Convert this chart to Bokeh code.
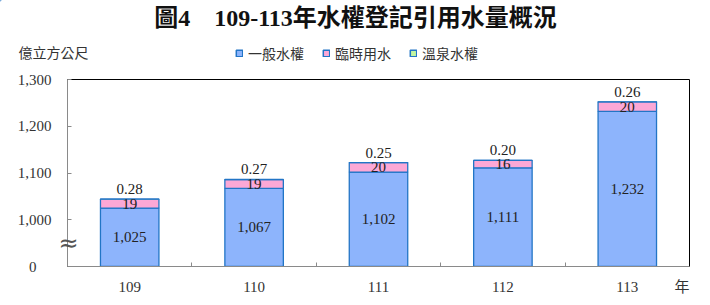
from bokeh.plotting import figure
from bokeh.layouts import column
from bokeh.models import (ColumnDataSource, FixedTicker, Label, Legend, LegendItem,
                          LinearAxis)
from bokeh.embed import file_html
from bokeh.resources import INLINE
from bokeh.core.properties import value

# ---- data ----
years = ["109", "110", "111", "112", "113"]
general = [1025, 1067, 1102, 1111, 1232]      # 一般水權
temporary = [19, 19, 20, 16, 20]              # 臨時用水
hotspring = [0.28, 0.27, 0.25, 0.20, 0.26]    # 溫泉水權
series_names = ["一般水權", "臨時用水", "溫泉水權"]
y_ticks = [1000, 1100, 1200, 1300]
y_tick_labels = ["1,000", "1,100", "1,200", "1,300"]
axis_floor = 900          # broken axis: bottom of the scale, shown as "0"
axis_floor_label = "0"
break_mark = "≈"
break_at = 950
title_text = "圖4　109-113年水權登記引用水量概況"
unit_text = "億立方公尺"
xunit_text = "年"

SERIF = "'Liberation Serif', 'Noto Sans CJK TC'"
CJK = "'Noto Sans CJK TC'"
BLUE = "#8DB4FC"
EDGE = "#2275C6"
PINK = "#FCA8D6"
GREEN = "#C2F5A0"
FILLS = [BLUE, PINK, GREEN]

x = list(range(1, len(years) + 1))
src = ColumnDataSource(dict(
    x=x, general=general, temporary=temporary, hotspring=hotspring,
    gen_lab=[f"{v:,}" for v in general],
    tmp_lab=[str(v) for v in temporary],
    hot_lab=[f"{v:.2f}" for v in hotspring],
    gen_y=[(axis_floor + g) / 2 for g in general],
    tmp_y=[g + t / 2 for g, t in zip(general, temporary)],
    top_y=[g + t + h for g, t, h in zip(general, temporary, hotspring)],
))

# ---------------- header (title, unit, legend) ----------------
HEAD_H = 69
head = figure(width=710, height=HEAD_H, x_range=(0, 710), y_range=(HEAD_H, 0),
              x_axis_type=None, y_axis_type=None, output_backend="svg",
              toolbar_location=None, min_border=0)
head.frame_align = False
head.outline_line_color = None
head.grid.visible = False
head.background_fill_color = "white"
head.border_fill_color = "white"

head.add_layout(Label(x=355, y=17, text=title_text, text_font=SERIF,
                      text_font_size="24px", text_font_style="bold",
                      text_align="center", text_baseline="middle",
                      text_color="#111111"))
head.add_layout(Label(x=18, y=51, text=unit_text, text_font=CJK,
                      text_font_size="14px", text_align="left",
                      text_baseline="middle", text_color="#333333"))

# legend keys (off-canvas so only their legend swatches show)
swatches = [head.vbar(x=[-50], bottom=[-60], top=[-50], width=1, fill_color=c,
                      line_color=EDGE, line_width=1.5) for c in FILLS]
legend = Legend(items=[LegendItem(label=n, renderers=[r]) for n, r in zip(series_names, swatches)],
                orientation="horizontal", location=(235, 6),
                glyph_width=8, glyph_height=8, label_standoff=5, spacing=18,
                padding=0, margin=0, border_line_color=None,
                background_fill_alpha=0, label_text_font=CJK,
                label_text_font_size="14px", label_text_color="#333333")
head.add_layout(legend, "center")

# ---------------- main chart ----------------
p = figure(width=710, height=305 - HEAD_H, x_range=(0.5, len(years) + 0.5),
           y_range=(axis_floor, 1300), output_backend="svg", toolbar_location=None,
           min_border_left=67, min_border_right=21, min_border_top=79 - HEAD_H,
           min_border_bottom=39)
p.frame_align = False
p.background_fill_color = "white"
p.border_fill_color = "white"
p.outline_line_color = "black"
p.grid.visible = False

rs = p.vbar_stack(["general", "temporary", "hotspring"], x="x", width=0.47,
                  source=src, fill_color=FILLS, line_color=EDGE, line_width=1.3)

for ycol, tcol, base, off in [("gen_y", "gen_lab", "middle", 0),
                              ("tmp_y", "tmp_lab", "middle", 0),
                              ("top_y", "hot_lab", "bottom", -5)]:
    p.text(x="x", y=ycol, text=tcol, source=src, text_align="center",
           text_baseline=base, y_offset=off, text_font=value(SERIF),
           text_font_size="15px", text_color="#222222")

# y axis
ya = p.yaxis[0]
ya.ticker = FixedTicker(ticks=[axis_floor] + y_ticks)
ya.major_label_overrides = {t: l for t, l in zip([axis_floor] + y_ticks,
                                                 [axis_floor_label + "\u2007\u2007"] + y_tick_labels)}
ya.minor_tick_line_color = None
ya.major_tick_in = 4
ya.major_tick_out = 0
ya.major_label_standoff = 16
ya.axis_line_color = "#8a8a8a"
ya.major_tick_line_color = "#8a8a8a"
ya.major_label_text_font = SERIF
ya.major_label_text_font_size = "15px"
ya.major_label_text_color = "#333333"

# axis-break mark drawn as the label of a second (invisible) left axis
brk = LinearAxis(ticker=FixedTicker(ticks=[break_at]),
                 major_label_overrides={break_at: break_mark},
                 axis_line_color=None, major_tick_line_color=None,
                 minor_tick_line_color=None, major_label_standoff=-70,
                 major_label_text_font="'DejaVu Sans'",
                 major_label_text_font_size="24px",
                 major_label_text_color="#555555")
p.add_layout(brk, "left")

# x axis
xt = x + [len(years) + 0.44]
xa = p.xaxis[0]
xa.ticker = FixedTicker(ticks=xt, minor_ticks=[i + 0.5 for i in x[:-1]])
xa.major_label_overrides = {i: y for i, y in zip(xt, years + [xunit_text])}
xa.major_tick_in = 0
xa.major_tick_out = 0
xa.minor_tick_in = 4
xa.minor_tick_out = 0
xa.axis_line_color = "#8a8a8a"
xa.minor_tick_line_color = "#8a8a8a"
xa.major_label_standoff = 12
xa.major_label_text_font = SERIF
xa.major_label_text_font_size = "15px"
xa.major_label_text_color = "#333333"

layout = column(head, p, spacing=0)
open("out.html", "w").write(file_html(layout, INLINE))
